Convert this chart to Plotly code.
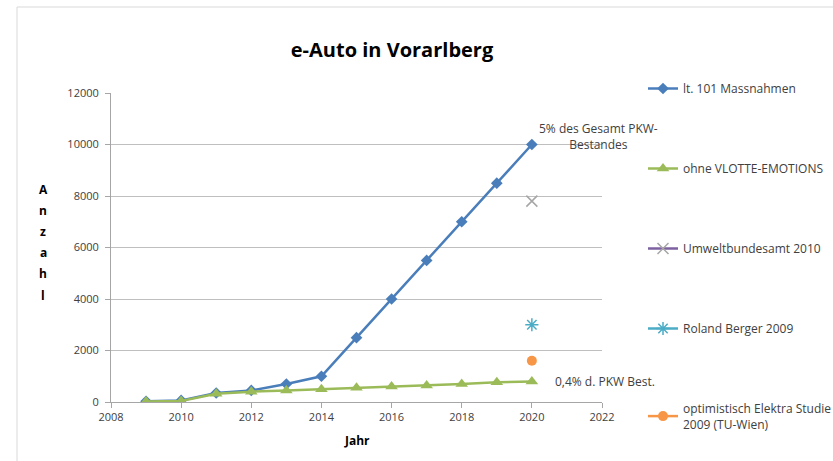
import plotly.graph_objects as go

years = [2009, 2010, 2011, 2012, 2013, 2014, 2015, 2016, 2017, 2018, 2019, 2020]
massnahmen = [30, 60, 350, 450, 700, 1000, 2500, 4000, 5500, 7000, 8500, 10000]
ohne_vlotte = [20, 40, 320, 400, 450, 500, 550, 600, 640, 700, 770, 800]
umwelt_year = [2020]
umwelt_val = [7800]
berger_year = [2020]
berger_val = [3000]
elektra_year = [2020]
elektra_val = [1600]
y_title_letters = ["A", "n", "z", "a", "h", "l"]

FONT = "Open Sans"
fig = go.Figure()

fig.add_trace(go.Scatter(x=years, y=massnahmen, mode="lines+markers", name="lt. 101 Massnahmen",
                         legendgroup="a", line=dict(color="#4a7ebb", width=2.5),
                         marker=dict(symbol="diamond", size=9, color="#4a7ebb")))
fig.add_trace(go.Scatter(x=years, y=ohne_vlotte, mode="lines+markers", name="ohne VLOTTE-EMOTIONS",
                         legendgroup="b", line=dict(color="#9bbb59", width=2.5),
                         marker=dict(symbol="triangle-up", size=11, color="#9bbb59")))
fig.add_trace(go.Scatter(x=umwelt_year, y=umwelt_val, mode="lines+markers", name="Umweltbundesamt 2010",
                         legendgroup="c", line=dict(color="#7d60a0", width=2.5),
                         marker=dict(symbol="x-thin-open", size=11, color="#a6a6a6",
                                     line=dict(color="#a6a6a6", width=1.5))))
fig.add_trace(go.Scatter(x=berger_year, y=berger_val, mode="lines+markers", name="Roland Berger 2009",
                         legendgroup="d", line=dict(color="#4bacc6", width=2.5),
                         marker=dict(symbol="asterisk-open", size=11, color="#4bacc6",
                                     line=dict(color="#4bacc6", width=1.5))))
fig.add_trace(go.Scatter(x=elektra_year, y=elektra_val, mode="lines+markers",
                         name="optimistisch Elektra Studie<br>2009 (TU-Wien)",
                         legendgroup="e", line=dict(color="#f79646", width=2.5),
                         marker=dict(symbol="circle", size=10, color="#f79646")))

W, H = 833, 461
L, R, T, B = 111, 231, 93, 59
pw, ph = W - L - R, H - T - B

def px(x):
    return (x - L) / pw

def py(y):
    return (H - B - y) / ph

fig.add_annotation(x=2020, y=10000, xref="x", yref="y", text="5% des Gesamt PKW-<br>Bestandes",
                   showarrow=False, xanchor="center", yanchor="middle", xshift=67, yshift=8,
                   align="center", font=dict(family=FONT, size=12, color="#404040"))
fig.add_annotation(x=2020, y=800, xref="x", yref="y", text="0,4% d. PKW Best.",
                   showarrow=False, xanchor="left", yanchor="middle", xshift=21, yshift=0,
                   font=dict(family=FONT, size=12, color="#404040"))
for i, ch in enumerate(y_title_letters):
    fig.add_annotation(x=px(43), y=py(189 + 21.2 * i), xref="paper", yref="paper", text=ch,
                       showarrow=False, xanchor="center", yanchor="middle",
                       font=dict(family=FONT, size=12, color="#000000", weight="bold"))
fig.add_annotation(x=0.5, y=py(440), xref="paper", yref="paper", text="<b>Jahr</b>",
                   showarrow=False, xanchor="center", yanchor="middle",
                   font=dict(family=FONT, size=12, color="#000000"))

fig.add_shape(type="rect", xref="paper", yref="paper", x0=px(17), y0=py(7), x1=px(900), y1=py(520),
              line=dict(color="#d9d9d9", width=1), fillcolor="rgba(0,0,0,0)", layer="below")

fig.update_layout(
    width=W, height=H,
    margin=dict(l=L, r=R, t=T, b=B, autoexpand=False),
    paper_bgcolor="white", plot_bgcolor="white",
    font=dict(family=FONT, size=12, color="#404040"),
    title=dict(text="<b>e-Auto in Vorarlberg</b>", x=px(392), xref="paper", xanchor="center",
               y=1 - 50 / H, yanchor="middle", font=dict(family=FONT, size=20, color="#000000")),
    legend=dict(x=px(643), y=py(74), xanchor="left", yanchor="top",
                traceorder="grouped", tracegroupgap=61, maxheight=430,
                font=dict(family=FONT, size=12, color="#404040"),
                bgcolor="rgba(0,0,0,0)"),
    showlegend=True,
)
fig.update_xaxes(range=[2008, 2022], dtick=2, tick0=2008, showgrid=False, showline=True,
                 linecolor="#a6a6a6", linewidth=1, ticks="outside", ticklen=5, tickcolor="#a6a6a6",
                 zeroline=False, tickformat="d", automargin=False,
                 tickfont=dict(family=FONT, size=11, color="#404040"))
fig.update_yaxes(range=[0, 12000], dtick=2000, showgrid=True, gridcolor="#bfbfbf", gridwidth=1,
                 showline=True, linecolor="#a6a6a6", linewidth=1, ticks="outside", ticklen=5,
                 tickcolor="#a6a6a6", zeroline=False, ticklabelstandoff=4, tickformat="d",
                 automargin=False, tickfont=dict(family=FONT, size=11, color="#404040"))

fig.write_html("out.html", config={"displayModeBar": False},
               post_script="document.body.style.margin='0';")
